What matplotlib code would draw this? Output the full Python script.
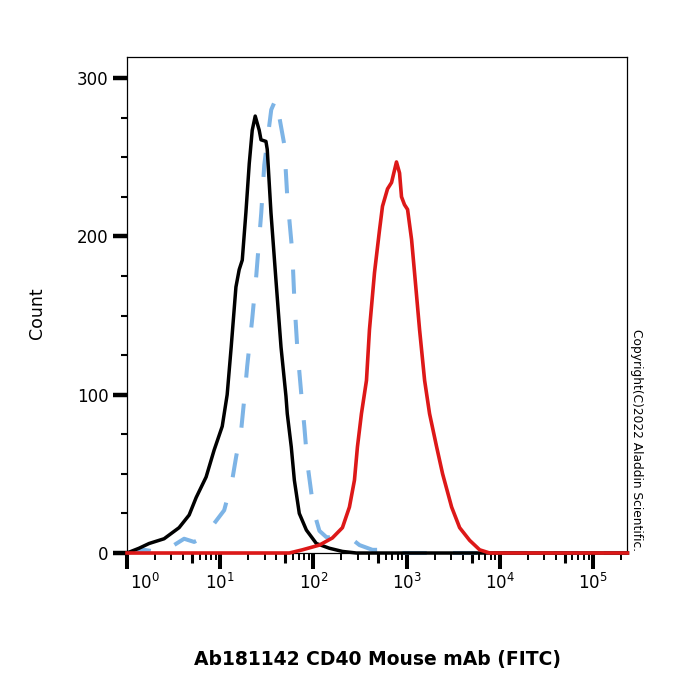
import numpy as np
import matplotlib
matplotlib.use("Agg")
import matplotlib.pyplot as plt
from matplotlib.transforms import ScaledTranslation

plt.rcParams['font.family'] = ['DejaVu Sans']
plt.rcParams['mathtext.default'] = 'regular'

# ---- data (x given as log10 of fluorescence intensity) ----
black_log = [0.000, 0.129, 0.237, 0.398, 0.559, 0.667, 0.742, 0.849, 0.935, 1.022,
             1.075, 1.118, 1.169, 1.204, 1.237, 1.276, 1.312, 1.344, 1.376, 1.419,
             1.438, 1.491, 1.505, 1.545, 1.599, 1.653, 1.706, 1.720, 1.763, 1.796,
             1.849, 1.925, 2.032, 2.172, 2.312, 2.462, 5.371]
black_cnt = [0, 3, 6, 9, 16, 24, 35, 48, 65, 80,
             100, 130, 168, 179, 185, 215, 246, 267, 276, 267,
             261, 260, 255, 215, 172, 130, 99, 88, 67, 46,
             25, 14.5, 6, 3, 1, 0, 0]

blue_log = [0.000, 0.075, 0.183, 0.290, 0.430, 0.505, 0.613, 0.720, 0.828, 0.914,
            1.043, 1.129, 1.172, 1.226, 1.258, 1.290, 1.344, 1.387, 1.441, 1.473,
            1.548, 1.599, 1.688, 1.720, 1.774, 1.796, 1.828, 1.871, 1.903, 1.935,
            1.978, 2.011, 2.065, 2.140, 2.409, 2.495, 2.634, 2.871, 2.946, 5.371]
blue_cnt = [0, 1, 2, 1, 1, 5, 9, 7, 10, 17,
            27, 46, 61, 78, 97, 118, 148, 175, 215, 245,
            280, 287, 258, 225, 190, 160, 129, 100, 80, 57,
            38, 25, 14, 10, 9, 5, 2, 2, 0, 0]

red_log = [0.000, 1.742, 1.882, 2.065, 2.204, 2.312, 2.387, 2.441, 2.473, 2.516,
           2.570, 2.602, 2.656, 2.710, 2.742, 2.796, 2.839, 2.892, 2.925, 2.946,
           2.978, 3.011, 3.054, 3.086, 3.140, 3.194, 3.247, 3.323, 3.387, 3.484,
           3.570, 3.677, 3.785, 3.892, 5.371]
red_cnt = [0, 0, 2, 5, 9.5, 16, 29, 46, 67, 88,
           109, 141, 177, 204, 219, 230, 234, 247, 240, 225,
           220, 217, 198, 177, 141, 109, 88, 67, 50, 29,
           16, 8, 2, 0, 0]

y_ticks = [0, 100, 200, 300]
x_decades = [0, 1, 2, 3, 4, 5]
x_labels = [r'$10^{%d}$' % d for d in x_decades]

# ---- figure ----
fig = plt.figure(figsize=(7, 7), dpi=100)
ax = fig.add_axes([127/700, 147/700, 500/700, 496/700])

ax.plot(10**np.array(blue_log), blue_cnt, color='#7DB4E6', lw=2.9,
        linestyle=(0, (6, 6.5)), clip_on=False, zorder=2)
ax.plot(10**np.array(black_log), black_cnt, color='black', lw=2.5,
        clip_on=False, zorder=3)
ax.plot(10**np.array(red_log), red_cnt, color='#DD1818', lw=2.6,
        clip_on=False, zorder=4)

ax.set_xscale('log')
ax.set_xlim(1, 10**5.366)
ax.set_ylim(0, 313.3)

for s in ax.spines.values():
    s.set_linewidth(0.9)

# y ticks
ax.set_yticks(y_ticks)
ax.set_yticks(np.arange(0, 301, 25), minor=True)
ax.tick_params(axis='y', which='major', length=10, width=3.2, labelsize=12, pad=3.5)
ax.tick_params(axis='y', which='minor', length=4.3, width=1.5)

# x ticks
ax.set_xticks([10**d for d in x_decades], labels=x_labels)
minor = [m * 10**d for d in range(0, 6) for m in (2, 3, 4, 6, 7, 8, 9)]
ax.set_xticks([v for v in minor if v < 10**5.366], minor=True)
ax.xaxis.set_minor_formatter(matplotlib.ticker.NullFormatter())
ax.tick_params(axis='x', which='major', length=11.5, width=2.9, labelsize=12, pad=3)
ax.tick_params(axis='x', which='minor', length=5, width=1.4)

sec = ax.secondary_xaxis('bottom')
sec.set_xticks([5 * 10**d for d in range(0, 5)], labels=[])
sec.xaxis.set_minor_locator(matplotlib.ticker.NullLocator())
sec.tick_params(axis='x', which='major', length=7, width=2.2)
sec.spines['bottom'].set_visible(False)

# shift the first decade label right, as in the reference
lbl0 = ax.get_xticklabels()[0]
lbl0.set_transform(lbl0.get_transform() + ScaledTranslation(18/100, 0, fig.dpi_scale_trans))

fig.text(377/700, 1 - 660/700, 'Ab181142 CD40 Mouse mAb (FITC)', ha='center', va='center',
         fontsize=13.5, fontweight='bold')
fig.text(37/700, 1 - 313/700, 'Count', rotation=90, ha='center', va='center', fontsize=12.5)
fig.text(637/700, 1 - 440/700, 'Copyright(C)2022 Aladdin Scientific.', rotation=270,
         ha='center', va='center', fontsize=8.8)

fig.savefig('out.png', dpi=100)
